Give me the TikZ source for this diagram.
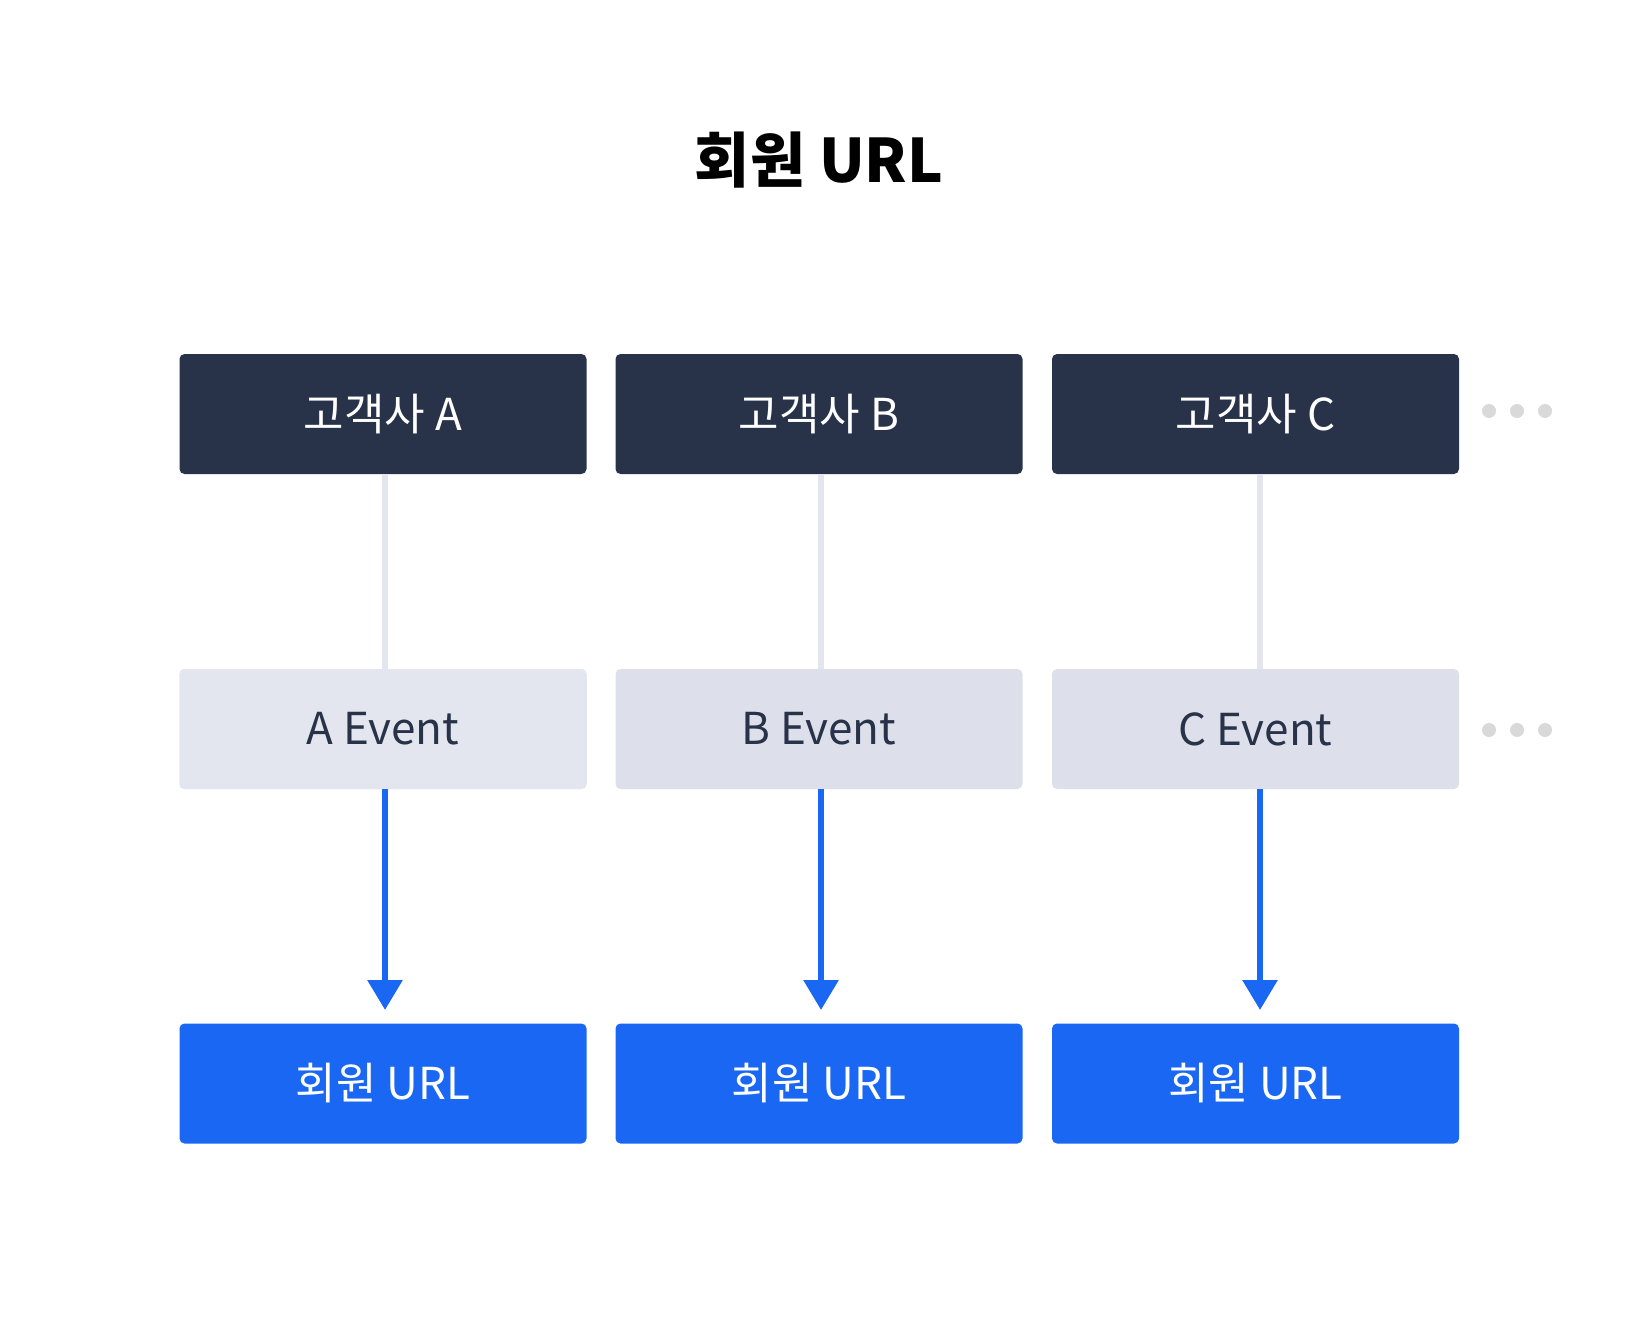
\documentclass[tikz,border=0pt]{standalone}
\usepackage{fontspec}
\setmainfont{Noto Sans CJK KR}
\usetikzlibrary{arrows.meta}
\definecolor{navy}{HTML}{283349}
\definecolor{evA}{HTML}{E3E6EE}
\definecolor{evB}{HTML}{DDE0EB}
\definecolor{blu}{HTML}{1967F2}
\definecolor{dot}{HTML}{D9D9D9}
\begin{document}
\begin{tikzpicture}[x=1pt,y=-1pt,
  box/.style={minimum width=407pt,minimum height=120pt,rounded corners=5pt,inner sep=0pt,font=\fontsize{44}{50}\selectfont},
  cust/.style={box,fill=navy,text=white},
  ev/.style={box,fill=evB,text=navy},
  url/.style={box,fill=blu,text=white},
  gline/.style={draw=evA,line width=6pt},
  barrow/.style={draw=blu,line width=6pt,-{Triangle[length=30pt,width=34pt]}},
  dots/.style={fill=dot,draw=none}]
\useasboundingbox (0,0) rectangle (1628,1332);
\node[font=\bfseries\fontsize{60}{66}\selectfont] (title) at (819,160) {회원 URL};
\foreach \n/\x/\L in {a/383/A,b/819/B,c/1255.5/C}{
  \node[cust] (c\n) at (\x,414) {고객사 \L};
  \node[ev] (e\n) at (\x,729) {\L\ Event};
  \node[url] (u\n) at (\x,1083.5) {회원 URL};
}
\node[box,fill=evA,text=navy] (ea) at (383,729) {A Event};
\foreach \n/\x in {a/385,b/821,c/1260}{
  \draw[gline] (\x,474) -- (\x,669);
  \draw[barrow] (\x,789) -- (\x,1010);
}
\foreach \y in {411,730}{
  \foreach \x in {1489,1517,1545}{\fill[dots] (\x,\y) circle (7);}
}
\end{tikzpicture}
\end{document}
